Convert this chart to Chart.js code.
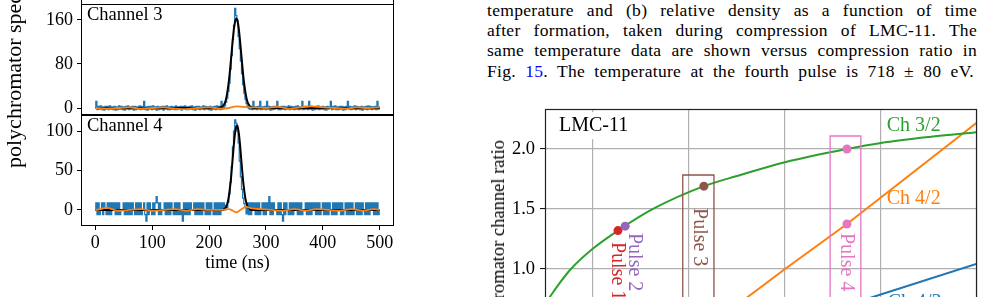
<!DOCTYPE html>
<html>
<head>
<meta charset="utf-8">
<script src="https://cdn.jsdelivr.net/npm/chart.js@4.4.1/dist/chart.umd.min.js"></script>
<style>
  html, body { margin: 0; padding: 0; background: #fff; }
  body { width: 984px; height: 297px; position: relative; overflow: hidden; font-family: "Liberation Serif", serif; }
  canvas { position: absolute; }
  .ylab { position: absolute; left: 0; top: 0; white-space: nowrap; transform-origin: 0 0; color: #000; font-family: "Liberation Serif", serif; }
  #ylabLeft { font-size: 22px; line-height: 22px; transform: translate(3px, 168px) rotate(-90deg); }
  #ylabRight { font-size: 18.5px; line-height: 18.5px; transform: translate(489px, 140px) rotate(-90deg) translateX(-100%); }
  #topPanel { position: absolute; left: 81px; top: -20px; width: 313px; height: 25px; box-sizing: border-box; border: 1px solid #000; }
  #caption { position: absolute; left: 487px; top: 0; width: 490px; font-family: "Liberation Serif", serif; font-size: 17.5px; line-height: 20.2px; letter-spacing: 0.3px; color: #000; }
  #caption .ln { display: block; white-space: nowrap; }
  #caption .ln span.txt { display: inline-block; white-space: nowrap; }
  #caption .ref { color: #0000ff; }
</style>
</head>
<body>
<div id="topPanel"></div>
<canvas id="ch3Chart" width="400" height="120" style="left:0;top:0"></canvas>
<canvas id="ch4Chart" width="400" height="186" style="left:0;top:111px"></canvas>
<div class="ylab" id="ylabLeft">polychromator spectra (mV)</div>

<div id="caption">
  <div class="ln" data-w="490"><span class="txt">temperature and (b) relative density as a function of time</span></div>
  <div class="ln" data-w="490"><span class="txt">after formation, taken during compression of LMC-11. The</span></div>
  <div class="ln" data-w="490"><span class="txt">same temperature data are shown versus compression ratio in</span></div>
  <div class="ln" data-w="487"><span class="txt">Fig. <span class="ref">15</span>. The temperature at the fourth pulse is 718 ± 80 eV.</span></div>
</div>

<canvas id="ratioChart" width="504" height="293" style="left:480px;top:100px"></canvas>
<div class="ylab" id="ylabRight">polychromator channel ratio</div>

<script>
// ---- left figure: polychromator traces (mV vs ns) ----
const T_STEP = 2; // ns between samples
const timeTicks = [0, 100, 200, 300, 400, 500];
const ch3Ticks = [0, 80, 160];
const ch4Ticks = [0, 50, 100];

// raw channel 3 signal, t = 0..500 ns
const ch3Signal = [
  2,12,-3,3,-2,4,-3,2,-4,3,  -2,3,-3,4,-2,2,-3,3,-4,2,  -3,4,-2,3,-3,2,-4,3,-2,4,
  -3,2,-2,3,-4,3,-3,2,-2,4,  -3,3,-2,12,-3,2,-4,3,-2,3,  -3,4,-2,2,-4,3,-3,2,-2,3,
  -4,3,-2,4,-3,2,-3,3,-2,2,  -3,4,-3,2,-2,3,-4,3,-2,4,  -3,2,-3,3,-2,4,-3,2,-4,3,
  -2,3,-3,2,-2,4,-3,3,-2,2,  -3,3,-4,2,-2,3,-3,4,-2,3,
  -3,12,-2,
  1,4,10,18,30,45,70,95,125,150,181,168,160,130,108,85,62,42,27,16,8,3,-1,
  -2,3,-3,12,-2,2,-3,3,-2,12,  -3,2,-2,3,-3,12,-2,3,-4,2,  -3,3,-2,3,12,-3,2,-3,3,-2,
  3,-3,2,-2,4,-3,3,-2,2,-3,  3,-2,4,-3,2,-2,12,-3,3,-2,  3,-3,12,-2,3,-4,2,-3,3,-2,
  4,-3,2,-2,3,-3,2,-4,3,-2,  2,12,-3,3,-2,4,-3,2,-3,3,  -2,3,-4,2,-3,3,12,-2,3,-3,
  2,-2,4,-3,3,-2,2,-3,3,-4,  2,-2,3,-3,4,-2,3,-3,2,-2,  3,-3,12,-2,2
];

// raw channel 4 signal, t = 0..500 ns
const ch4Signal = [
  0,9,-6,9,-6,0,9,-6,9,0,  -6,9,-6,9,-6,9,0,9,-6,9,  -6,9,-6,0,0,9,-6,9,-6,9,
  -6,9,-6,9,0,-6,9,-6,9,-6,  9,-6,0,9,-6,-14,9,-6,9,0,  -6,9,-6,9,17,9,-6,9,-6,0,
  0,9,-6,9,-6,9,-6,9,0,-6,  9,-6,9,-6,9,-6,0,-14,9,-6,  9,-6,9,-6,9,0,0,9,-6,9,
  -6,9,-6,9,-6,9,0,-6,9,-6,  9,-6,9,0,-6,9,-6,9,-6,9,  -6,9,0,9,
  0,6,3,10,20,35,55,80,100,114,110,100,85,62,42,26,15,8,3,-5,
  9,-6,9,-6,9,0,9,-6,9,-6,  9,-6,0,9,-6,9,-6,9,0,17,  -6,9,-6,9,0,0,-6,9,-6,9,
  -6,-14,9,-6,9,0,-6,9,-6,9,  -6,9,0,9,-6,9,-6,9,-6,0,  0,9,-6,9,-6,9,-6,9,0,9,
  -6,9,-6,9,-6,0,9,-6,9,-6,  9,-6,9,0,-6,9,-6,9,-6,9,  0,9,-6,9,-6,0,9,-6,9,-6,
  9,-6,9,-6,0,9,-6,9,-6,9,  -6,9,0,-6,9,-6,9,-6,9,0,  9,-6,9,-6,9,-6,0
];

// gaussian fits (black)
const ch3Fit = [[0,0],[216,0],[220,1],[224,3],[228,10],[230,17],[232,28],[234,42],[236,60],[238,82],
  [240,105],[242,127],[244,146],[246,158],[248,163],[250,158],[252,146],[254,127],[256,105],[258,82],
  [260,60],[262,42],[264,28],[266,17],[268,10],[272,3],[276,1],[280,0],[500,0]];
const ch4Fit = [[0,0],[224,0],[226,1],[228,2],[230,4],[232,8],[234,14],[236,24],[238,36],[240,52],
  [242,69],[244,86],[246,99],[248,106],[249,107],[250,106],[252,99],[254,86],[256,69],[258,52],
  [260,36],[262,24],[264,14],[266,8],[268,4],[270,2],[272,1],[274,0],[500,0]];

// smoothed background (orange)
const ch3Smooth = [[0,0],[20,-1],[40,0],[60,1],[80,-1],[100,0],[120,1],[140,-1],[160,-2],[180,0],
  [200,1],[220,-1],[235,0],[248,3],[260,2],[280,1],[300,0],[320,2],[340,-1],[360,1],[380,3],
  [400,1],[420,0],[440,-1],[460,1],[480,0],[500,1]];
const ch4Smooth = [[0,0],[10,1],[20,3],[30,1],[40,-1],[60,0],[80,1],[100,-1],[120,0],[140,1],
  [160,-1],[180,1],[200,0],[220,0],[235,1],[242,-1],[248,-3],[255,0],[265,4],[275,2],[290,1],
  [310,0],[330,-1],[350,1],[370,-1],[390,1],[410,0],[430,-1],[450,1],[470,-1],[490,1],[500,0]];

// ---- right figure: channel ratio vs Te ----
const teTicks = [200, 400, 600, 800, 1000];
const ratioTicks = [0.5, 1.0, 1.5, 2.0];
const ratio32 = [[100,0.71],[110,0.767],[130,0.88],[154,1.0],[200,1.17],[252,1.32],[325,1.5],
  [431,1.69],[500,1.775],[600,1.89],[729,2.0],[800,2.05],[900,2.1],[1000,2.14]];
const ratio42 = [[450,0.55],[600,1.0],[729,1.375],[1000,2.22]];
const ratio43 = [[700,0.66],[1000,1.045]];
const pulseNames = ['Pulse 1', 'Pulse 2', 'Pulse 3', 'Pulse 4'];
const pulseTe = [252, 267, 431, 729];
const pulseRatio32 = [1.32, 1.357, 1.69, 2.0];
const pulse4Ratio42 = 1.375;
const pulse3Box = [[387,0.2],[387,1.783],[452,1.783],[452,0.2]];
const pulse4Box = [[694,0.2],[694,2.108],[758,2.108],[758,0.2]];

const C = {
  blue: '#1f77b4', orange: '#ff7f0e', green: '#2ca02c', red: '#d62728',
  purple: '#9467bd', brown: '#8c564b', pink: '#e377c2', grid: '#b0b0b0'
};
const SERIF = '"Liberation Serif", "Times New Roman", serif';
const pairs = arr => arr.map(([x, y]) => ({ x, y }));

// no extra room for overhanging tick labels: plot edges are set by layout padding only
const noPad = s => { s.paddingTop = 0; s.paddingBottom = 0; s.paddingLeft = 0; s.paddingRight = 0; };

// --- frame + corner label for each trace panel ---
const panelFrame = {
    id: 'panelFrame',
    afterDatasetsDraw(chart, args, opts) {
        const { ctx, chartArea: a } = chart;
        ctx.save();
        ctx.strokeStyle = '#000';
        ctx.lineWidth = 1;
        ctx.strokeRect(a.left + 0.5, a.top + 0.5, a.right - a.left - 1, a.bottom - a.top - 1);
        if (opts.label) {
            ctx.fillStyle = '#000';
            ctx.font = '18.5px ' + SERIF;
            ctx.textBaseline = 'middle';
            ctx.fillText(opts.label, a.left + 6, a.top + 11);
        }
        ctx.restore();
    }
};

function tracePanel(id, signal, fit, smooth, yMin, yMax, yTicks, label, showX) {
    const tickFont = { family: SERIF, size: 18 };
    new Chart(document.getElementById(id), {
        type: 'scatter',
        data: {
            datasets: [
                { data: signal.map((v, i) => ({ x: i * T_STEP, y: v })), showLine: true, borderColor: C.blue,
                  borderWidth: 1.2, pointRadius: 0, stepped: 'middle', order: 3 },
                { data: pairs(fit), showLine: true, borderColor: '#000', borderWidth: 2, pointRadius: 0,
                  cubicInterpolationMode: 'monotone', order: 2 },
                { data: pairs(smooth), showLine: true, borderColor: C.orange, borderWidth: 1.8, pointRadius: 0,
                  cubicInterpolationMode: 'monotone', order: 1 }
            ]
        },
        options: {
            responsive: false, animation: false,
            layout: { padding: { left: 0, right: 6, top: 4, bottom: showX ? 0 : 5 } },
            plugins: { legend: { display: false }, tooltip: { enabled: false }, panelFrame: { label } },
            scales: {
                x: {
                    type: 'linear', min: -25, max: 525, display: showX,
                    afterBuildTicks: s => { s.ticks = timeTicks.map(value => ({ value })); },
                    afterFit: s => { noPad(s); if (showX) s.height = 71; else s.height = 0; },
                    grid: { drawOnChartArea: false, drawTicks: true, tickLength: 4, tickColor: '#000', tickWidth: 1 },
                    border: { display: false },
                    ticks: { font: tickFont, color: '#000', padding: 2, maxRotation: 0 },
                    title: { display: true, text: 'time (ns)', font: tickFont, color: '#000', padding: { top: 0, bottom: 23 } }
                },
                y: {
                    type: 'linear', min: yMin, max: yMax,
                    afterBuildTicks: s => { s.ticks = yTicks.map(value => ({ value })); },
                    afterFit: s => { noPad(s); s.width = 81; },
                    grid: { drawOnChartArea: false, drawTicks: true, tickLength: 4, tickColor: '#000', tickWidth: 1 },
                    border: { display: false },
                    ticks: { font: tickFont, color: '#000', padding: 4 }
                }
            }
        },
        plugins: [panelFrame]
    });
}

tracePanel('ch3Chart', ch3Signal, ch3Fit, ch3Smooth, -12.7, 189, ch3Ticks, 'Channel 3', false);
tracePanel('ch4Chart', ch4Signal, ch4Fit, ch4Smooth, -20.3, 120.3, ch4Ticks, 'Channel 4', true);

// --- ratio chart annotations ---
const ratioNotes = [
    { text: 'LMC-11', te: 129, r: 2.19, color: '#000', boxed: true },
    { text: 'Ch 3/2', te: 812, r: 2.19, color: C.green },
    { text: 'Ch 4/2', te: 812, r: 1.583, color: C.orange },
    { text: 'Ch 4/3', te: 814, r: 0.717, color: C.blue }
];
const pulseNotes = [
    { te: 250, r: 1.225, color: C.red },
    { te: 285, r: 1.30, color: C.purple },
    { te: 421, r: 1.508, color: C.brown },
    { te: 727, r: 1.30, color: C.pink }
];

const ratioDecor = {
    id: 'ratioDecor',
    beforeDatasetsDraw(chart) {
        const { ctx, scales: { x, y } } = chart;
        ctx.save();
        ctx.font = '20px ' + SERIF;
        ratioNotes.filter(n => n.boxed).forEach(n => {
            const px = x.getPixelForValue(n.te), py = y.getPixelForValue(n.r);
            const w = ctx.measureText(n.text).width;
            ctx.fillStyle = '#fff';
            ctx.fillRect(px - 6, py - 14, w + 12, 27);
        });
        ctx.restore();
    },
    afterDatasetsDraw(chart) {
        const { ctx, chartArea: a, scales: { x, y } } = chart;
        ctx.save();
        ctx.beginPath();
        ctx.rect(a.left, a.top, a.right - a.left, a.bottom - a.top);
        ctx.clip();
        ctx.font = '20px ' + SERIF;
        ctx.textBaseline = 'middle';
        ratioNotes.forEach(n => {
            ctx.fillStyle = n.color;
            ctx.fillText(n.text, x.getPixelForValue(n.te), y.getPixelForValue(n.r));
        });
        pulseNotes.forEach((n, i) => {
            ctx.save();
            ctx.translate(x.getPixelForValue(n.te), y.getPixelForValue(n.r));
            ctx.rotate(Math.PI / 2);
            ctx.fillStyle = n.color;
            ctx.textAlign = 'left';
            ctx.fillText(pulseNames[i], 0, 0);
            ctx.restore();
        });
        ctx.restore();
        ctx.save();
        ctx.strokeStyle = '#222';
        ctx.lineWidth = 1.2;
        ctx.strokeRect(a.left + 0.5, a.top + 0.5, a.right - a.left - 1, a.bottom - a.top - 1);
        ctx.restore();
    }
};

const dot = (te, r, color) => ({
    data: [{ x: te, y: r }], pointRadius: 4.5, pointBackgroundColor: color, pointBorderColor: color,
    pointBorderWidth: 0, order: 1
});

new Chart(document.getElementById('ratioChart'), {
    type: 'scatter',
    data: {
        datasets: [
            dot(pulseTe[1], pulseRatio32[1], C.purple),
            dot(pulseTe[0], pulseRatio32[0], C.red),
            dot(pulseTe[2], pulseRatio32[2], C.brown),
            dot(pulseTe[3], pulseRatio32[3], C.pink),
            dot(pulseTe[3], pulse4Ratio42, C.pink),
            { data: pairs(ratio32), showLine: true, borderColor: C.green, borderWidth: 2, pointRadius: 0,
              cubicInterpolationMode: 'monotone', order: 3 },
            { data: pairs(ratio42), showLine: true, borderColor: C.orange, borderWidth: 2, pointRadius: 0,
              tension: 0, order: 3 },
            { data: pairs(ratio43), showLine: true, borderColor: C.blue, borderWidth: 2, pointRadius: 0,
              tension: 0, order: 3 },
            { data: pairs(pulse3Box), showLine: true, borderColor: C.brown, borderWidth: 1.3, pointRadius: 0,
              tension: 0, order: 2 },
            { data: pairs(pulse4Box), showLine: true, borderColor: C.pink, borderWidth: 1.3, pointRadius: 0,
              tension: 0, order: 2 }
        ]
    },
    options: {
        responsive: false, animation: false,
        layout: { padding: { left: 0, right: 7, top: 9, bottom: 0 } },
        plugins: { legend: { display: false }, tooltip: { enabled: false } },
        scales: {
            x: {
                type: 'linear', min: 100, max: 1000,
                afterBuildTicks: s => { s.ticks = teTicks.map(value => ({ value })); },
                afterFit: s => { noPad(s); s.height = 40; },
                grid: { color: C.grid, lineWidth: 1.2, drawTicks: false },
                border: { display: false },
                ticks: { display: false }
            },
            y: {
                type: 'linear', min: 0.3, max: 2.333,
                afterBuildTicks: s => { s.ticks = ratioTicks.map(value => ({ value })); },
                afterFit: s => { noPad(s); s.width = 65; },
                grid: { color: C.grid, lineWidth: 1.2, drawTicks: true, tickLength: 5, tickColor: '#000', tickWidth: 1 },
                border: { display: false },
                ticks: { font: { family: SERIF, size: 18.5 }, color: '#000', padding: 5,
                         callback: v => v.toFixed(1) }
            }
        }
    },
    plugins: [ratioDecor]
});

// justify each caption line to its measured column width
document.querySelectorAll('#caption .ln').forEach(line => {
    const span = line.querySelector('.txt');
    const target = +line.dataset.w;
    const gaps = (span.textContent.match(/ /g) || []).length;
    const extra = (target - span.getBoundingClientRect().width) / gaps;
    span.style.wordSpacing = extra + 'px';
});
</script>
</body>
</html>
